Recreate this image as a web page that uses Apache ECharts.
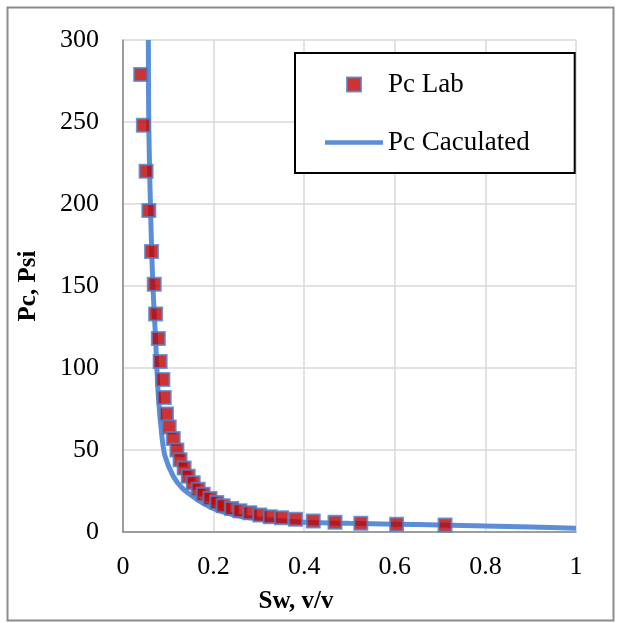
<!DOCTYPE html>
<html>
<head>
<meta charset="utf-8">
<script src="https://cdn.jsdelivr.net/npm/echarts@6/dist/echarts.min.js"></script>
<style>
  html, body { margin: 0; padding: 0; background: #fff; }
  #main { width: 617px; height: 623px; }
</style>
</head>
<body>
<div id="main"></div>
<script>
// lab points (Sw, Pc)
var labSw = [0.039, 0.045, 0.051, 0.057, 0.063, 0.069, 0.072, 0.078, 0.082, 0.088, 0.091, 0.096,
  0.102, 0.111, 0.119, 0.126, 0.135, 0.144, 0.155, 0.166, 0.177, 0.192, 0.207, 0.221, 0.240,
  0.258, 0.280, 0.302, 0.325, 0.350, 0.381, 0.420, 0.468, 0.525, 0.604, 0.711];
var labPc = [279, 248, 220, 196, 171, 151, 133, 118, 104, 93, 82, 72,
  64, 57, 50, 44, 39, 34, 30, 26, 23, 20.5, 18, 16, 14.4,
  13, 11.8, 10.4, 9.3, 8.7, 7.7, 6.7, 5.9, 5.3, 4.7, 4.3];

// calculated curve
var calcSw = [0.056, 0.057, 0.062, 0.066, 0.071, 0.078, 0.086, 0.093, 0.111, 0.130, 0.155, 0.180,
  0.207, 0.250, 0.290, 0.350, 0.400, 0.500, 0.600, 0.700, 0.800, 0.900, 1.000];
var calcPc = [300, 245, 184, 150, 123, 83, 58, 46, 34, 27, 21.5, 17,
  13.4, 10, 8.3, 6.8, 6, 5.3, 4.8, 4.3, 3.7, 3, 2.3];

var fontFam = "'Liberation Serif', 'Times New Roman', serif";
var lineBlue = "#5a8fd8";

var myChart = echarts.init(document.getElementById("main"));

var labData = labSw.map(function (x, i) { return [x, labPc[i]]; });
var calcData = calcSw.map(function (x, i) { return [x, calcPc[i]]; });

var option = {
  backgroundColor: "#fff",
  animation: false,
  graphic: [{
    type: "rect",
    left: 5, top: 5,
    shape: { width: 606, height: 613 },
    style: { fill: "none", stroke: "#8c8c8c", lineWidth: 2 },
    silent: true
  }],
  grid: { left: 123, right: 41, top: 40, bottom: 91 },
  legend: {
    orient: "vertical",
    left: 295,
    top: 53,
    padding: [18, 45, 17, 30],
    itemGap: 31,
    itemWidth: 58,
    itemHeight: 14,
    borderColor: "#000",
    borderWidth: 2,
    backgroundColor: "#fff",
    textStyle: { fontFamily: fontFam, fontSize: 27, color: "#000" },
    data: [
      { name: "Pc Lab", icon: "path://M0,0h10v10h-10z" },
      { name: "Pc Caculated", icon: "path://M0,0h58v4.5h-58z" }
    ]
  },
  xAxis: {
    type: "value",
    min: 0, max: 1, interval: 0.2,
    name: "Sw, v/v",
    nameLocation: "middle",
    nameGap: 57,
    nameTextStyle: { fontFamily: fontFam, fontSize: 25, fontWeight: "bold", color: "#000", padding: [0, 107, 0, 0] },
    axisLine: { show: true, lineStyle: { color: "#868686", width: 1.5 } },
    axisTick: { show: false },
    axisLabel: { fontFamily: fontFam, fontSize: 26, color: "#000", margin: 22 },
    splitLine: { show: true, lineStyle: { color: "#d9d9d9", width: 1.5 } }
  },
  yAxis: {
    type: "value",
    min: 0, max: 300, interval: 50,
    name: "Pc, Psi",
    nameLocation: "middle",
    nameGap: 82,
    nameTextStyle: { fontFamily: fontFam, fontSize: 25, fontWeight: "bold", color: "#000" },
    axisLine: { show: true, lineStyle: { color: "#868686", width: 1.5 } },
    axisTick: { show: false },
    axisLabel: { fontFamily: fontFam, fontSize: 26, color: "#000", margin: 24 },
    splitLine: { show: true, lineStyle: { color: "#d9d9d9", width: 1.5 } }
  },
  series: [
    {
      name: "Pc Lab",
      type: "scatter",
      symbol: "rect",
      symbolSize: 13,
      z: 3,
      itemStyle: { color: "#c00000", borderColor: "#4f81c8", borderWidth: 2 },
      data: labData
    },
    {
      name: "Pc Caculated",
      type: "line",
      symbol: "none",
      smooth: 0.3,
      z: 2,
      lineStyle: { color: lineBlue, width: 5 },
      itemStyle: { color: lineBlue },
      data: calcData
    }
  ]
};

myChart.setOption(option);
</script>
</body>
</html>
